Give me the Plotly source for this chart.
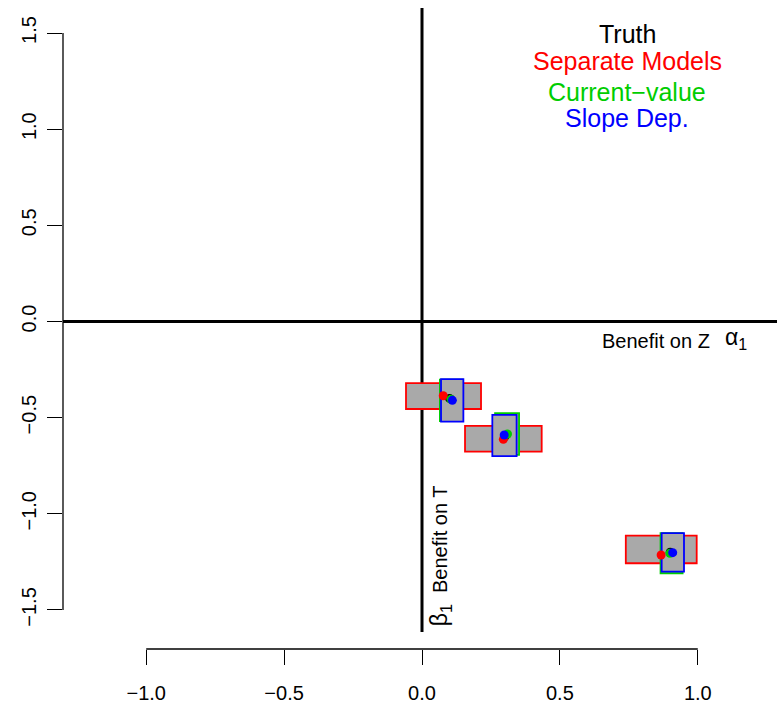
import plotly.graph_objects as go

# ---- data ----
truth_x = [0.10, 0.30, 0.90]
truth_y = [-0.40, -0.60, -1.20]

sep_x = [0.077, 0.295, 0.867]
sep_y = [-0.386, -0.613, -1.214]
sep_xlo = [-0.058, 0.156, 0.739]
sep_xhi = [0.214, 0.434, 0.996]
sep_ylo = [-0.455, -0.677, -1.257]
sep_yhi = [-0.321, -0.543, -1.114]

cur_x = [0.105, 0.310, 0.899]
cur_y = [-0.405, -0.585, -1.205]
cur_xlo = [0.065, 0.265, 0.865]
cur_xhi = [0.146, 0.352, 0.945]
cur_ylo = [-0.518, -0.694, -1.309]
cur_yhi = [-0.302, -0.477, -1.101]

slope_x = [0.110, 0.298, 0.909]
slope_y = [-0.410, -0.590, -1.202]
slope_xlo = [0.069, 0.255, 0.869]
slope_xhi = [0.150, 0.343, 0.950]
slope_ylo = [-0.521, -0.700, -1.301]
slope_yhi = [-0.300, -0.486, -1.101]

x_ticks = [-1.0, -0.5, 0.0, 0.5, 1.0]
x_ticktext = ["\u22121.0", "\u22120.5", "0.0", "0.5", "1.0"]
y_ticks = [-1.5, -1.0, -0.5, 0.0, 0.5, 1.0, 1.5]
y_ticktext = ["\u22121.5", "\u22121.0", "\u22120.5", "0.0", "0.5", "1.0", "1.5"]

legend_labels = ["Truth", "Separate Models", "Current\u2212value", "Slope Dep."]

RED = "#FF0000"
GREEN = "#00CD00"
BLUE = "#0000FF"
GRAY = "#A9A9A9"
FONT = "Liberation Sans, Arial, sans-serif"

X_RANGE = [-1.3017, 1.2872]
Y_RANGE = [-1.703, 1.630]
Y_TOP_REGION = 1.630
Y_BOT_REGION = -1.615

fig = go.Figure()

shapes = []
# zero lines (drawn first, under boxes)
shapes.append(dict(type="line", xref="x", yref="y", x0=0, x1=0,
                   y0=Y_BOT_REGION, y1=Y_TOP_REGION, layer="below",
                   line=dict(color="black", width=3)))
shapes.append(dict(type="line", xref="x", yref="y", x0=X_RANGE[0], x1=X_RANGE[1],
                   y0=0, y1=0, layer="below",
                   line=dict(color="black", width=3)))

# boxes
for xlo, xhi, ylo, yhi, col in [(sep_xlo, sep_xhi, sep_ylo, sep_yhi, RED),
                                (cur_xlo, cur_xhi, cur_ylo, cur_yhi, GREEN),
                                (slope_xlo, slope_xhi, slope_ylo, slope_yhi, BLUE)]:
    for i in range(len(xlo)):
        shapes.append(dict(type="rect", xref="x", yref="y",
                           x0=xlo[i], x1=xhi[i], y0=ylo[i], y1=yhi[i],
                           layer="below", fillcolor=GRAY,
                           line=dict(color=col, width=1.8)))

# axis lines (R style: only between first and last ticks)
shapes.append(dict(type="line", xref="x", yref="paper", x0=x_ticks[0], x1=x_ticks[-1],
                   y0=0, y1=0, line=dict(color="black", width=1.3)))
shapes.append(dict(type="line", xref="paper", yref="y", x0=0, x1=0,
                   y0=y_ticks[0], y1=y_ticks[-1], line=dict(color="black", width=1.3)))

# points
for xs, ys, col in [(truth_x, truth_y, "black"), (sep_x, sep_y, RED),
                    (cur_x, cur_y, GREEN), (slope_x, slope_y, BLUE)]:
    fig.add_trace(go.Scatter(x=xs, y=ys, mode="markers",
                             marker=dict(color=col, size=9, line=dict(width=0)),
                             showlegend=False, hoverinfo="skip"))

annotations = []
leg_cols = ["black", RED, GREEN, BLUE]
leg_y = [1.495, 1.355, 1.193, 1.058]
for lab, col, yy in zip(legend_labels, leg_cols, leg_y):
    annotations.append(dict(x=0.745, y=yy, xref="x", yref="y", text=lab,
                            showarrow=False, xanchor="center", yanchor="middle",
                            font=dict(family=FONT, size=25, color=col)))

annotations.append(dict(x=0.850, y=-0.103, xref="x", yref="y", text="Benefit on Z",
                        showarrow=False, xanchor="center", yanchor="middle",
                        font=dict(family=FONT, size=20, color="black")))
annotations.append(dict(x=1.14, y=-0.09, xref="x", yref="y", text="\u03b1<sub>1</sub>",
                        showarrow=False, xanchor="center", yanchor="middle",
                        font=dict(family=FONT, size=23, color="black")))
annotations.append(dict(x=0.066, y=-1.22, xref="x", yref="y",
                        text="<span style='font-size:23px'>\u03b2<sub>1</sub></span>  Benefit on T",
                        textangle=-90, showarrow=False, xanchor="center", yanchor="middle",
                        font=dict(family=FONT, size=20, color="black")))

fig.update_layout(
    width=777, height=706,
    margin=dict(l=63, r=0, t=8, b=57, pad=0),
    paper_bgcolor="white", plot_bgcolor="white",
    shapes=shapes, annotations=annotations,
    showlegend=False,
    xaxis=dict(range=X_RANGE, showgrid=False, zeroline=False, showline=False,
               tickmode="array", tickvals=x_ticks, ticktext=x_ticktext,
               ticks="outside", ticklen=15, tickwidth=1.3, tickcolor="black",
               ticklabelstandoff=11,
               tickfont=dict(family=FONT, size=20, color="black")),
    yaxis=dict(range=Y_RANGE, showgrid=False, zeroline=False, showline=False,
               tickmode="array", tickvals=y_ticks, ticktext=y_ticktext,
               ticks="outside", ticklen=15, tickwidth=1.3, tickcolor="black",
               tickangle=-90, ticklabelstandoff=3,
               tickfont=dict(family=FONT, size=20, color="black")),
)

fig.write_html("out.html")
